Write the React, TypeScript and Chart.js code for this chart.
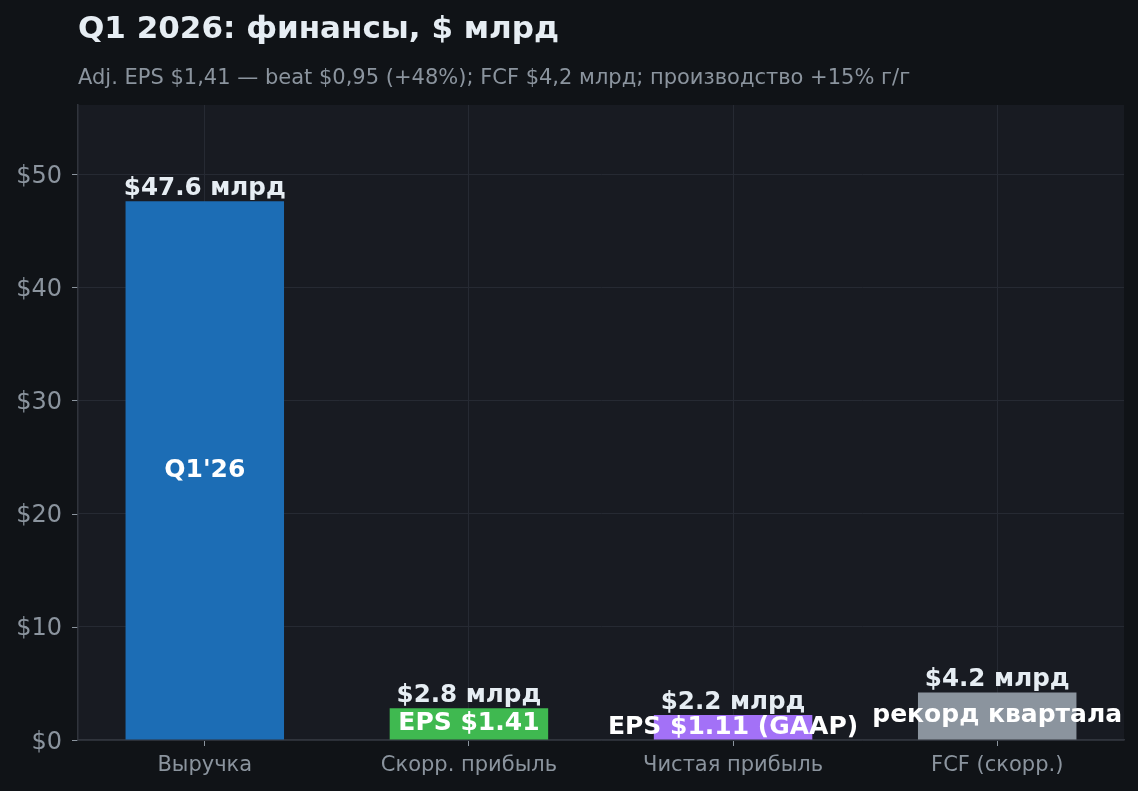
import React, { useEffect, useRef } from "react";
import { Chart, registerables } from "chart.js";

Chart.register(...registerables);

const categories = ["Выручка", "Скорр. прибыль", "Чистая прибыль", "FCF (скорр.)"];
const values = [47.6, 2.8, 2.2, 4.2];
const valueLabels = ["$47.6 млрд", "$2.8 млрд", "$2.2 млрд", "$4.2 млрд"];
const innerLabels = ["Q1'26", "EPS $1.41", "EPS $1.11 (GAAP)", "рекорд квартала"];
const yTicks = [0, 10, 20, 30, 40, 50];
const barColors = ["#1c6db5", "#3fb950", "#a371f7", "#8b949e"];
const titleText = "Q1 2026: финансы, $ млрд";
const subtitleText = "Adj. EPS $1,41 — beat $0,95 (+48%); FCF $4,2 млрд; производство +15% г/г";

const FONT = "'DejaVu Sans', sans-serif";
const PAGE_BG = "#101317";
const PLOT_BG = "#181b22";
const GRID = "#262a33";
const MUTED = "#8b949e";

const decorPlugin = {
  id: "decor",
  beforeDraw(chart: any) {
    const { ctx, chartArea, width, height } = chart;
    ctx.save();
    ctx.fillStyle = PAGE_BG;
    ctx.fillRect(0, 0, width, height);
    ctx.fillStyle = PLOT_BG;
    ctx.fillRect(chartArea.left, chartArea.top, chartArea.right - chartArea.left, chartArea.bottom - chartArea.top);
    ctx.textAlign = "left";
    ctx.textBaseline = "alphabetic";
    ctx.fillStyle = "#e6edf3";
    ctx.font = `bold 31px ${FONT}`;
    ctx.fillText(titleText, chartArea.left, 38);
    ctx.fillStyle = MUTED;
    ctx.font = `21px ${FONT}`;
    ctx.fillText(subtitleText, chartArea.left, 83.5);
    ctx.restore();
  },
  afterDraw(chart: any) {
    const { ctx } = chart;
    const yScale = chart.scales.y;
    ctx.save();
    ctx.font = `24px ${FONT}`;
    ctx.fillStyle = MUTED;
    ctx.strokeStyle = MUTED;
    ctx.lineWidth = 1;
    ctx.textAlign = "right";
    ctx.textBaseline = "alphabetic";
    yTicks.forEach((v) => {
      const py = yScale.getPixelForValue(v);
      ctx.fillText(`$${v}`, yScale.right - 16, py + 8.5);
      const yy = Math.round(py) + 0.5;
      ctx.beginPath();
      ctx.moveTo(yScale.right - 6, yy);
      ctx.lineTo(yScale.right - 0.75, yy);
      ctx.stroke();
    });
    ctx.restore();
  },
  afterDatasetsDraw(chart: any) {
    const { ctx } = chart;
    const meta = chart.getDatasetMeta(0);
    ctx.save();
    ctx.textAlign = "center";
    meta.data.forEach((bar: any, i: number) => {
      const { x, y, base } = bar.getProps(["x", "y", "base"], true);
      ctx.font = `bold 24.6px ${FONT}`;
      ctx.fillStyle = "#e6edf3";
      ctx.textBaseline = "alphabetic";
      ctx.fillText(valueLabels[i], x, y - 6);
      ctx.font = `bold 25px ${FONT}`;
      ctx.fillStyle = "#ffffff";
      ctx.textBaseline = "middle";
      ctx.fillText(innerLabels[i], x, (y + base) / 2);
    });
    ctx.restore();
  },
};

export default function App() {
  const ref = useRef<HTMLCanvasElement | null>(null);

  useEffect(() => {
    document.body.style.margin = "0";
    document.body.style.background = PAGE_BG;
    const canvas = ref.current;
    if (!canvas) return;
    const chart = new Chart(canvas, {
      type: "bar",
      data: {
        datasets: [
          {
            data: values.map((v, i) => ({ x: i, y: v })),
            backgroundColor: barColors,
            borderWidth: 0,
            barPercentage: 0.6,
            categoryPercentage: 1,
          },
        ],
      },
      options: {
        animation: false,
        responsive: true,
        maintainAspectRatio: false,
        layout: { padding: { left: 0, top: 105, right: 14, bottom: 0 } },
        plugins: {
          legend: { display: false },
          tooltip: { enabled: false },
          title: { display: false },
        },
        scales: {
          x: {
            type: "linear",
            offset: false,
            min: -0.48,
            max: 3.48,
            afterBuildTicks: (scale: any) => {
              scale.ticks = categories.map((_, i) => ({ value: i }));
            },
            afterFit: (scale: any) => {
              scale.height = 51;
            },
            ticks: {
              callback: (v: any) => categories[Math.round(Number(v))] ?? "",
              color: MUTED,
              font: { family: FONT, size: 21 },
              padding: 7,
              autoSkip: false,
              maxRotation: 0,
            },
            grid: { offset: false, color: GRID, tickColor: MUTED, tickLength: 6, lineWidth: 1 },
            border: { color: "#30343c", width: 1.5 },
          },
          y: {
            type: "linear",
            min: 0,
            max: 56.1,
            afterBuildTicks: (scale: any) => {
              scale.ticks = yTicks.map((v) => ({ value: v }));
            },
            afterFit: (scale: any) => {
              scale.width = 78;
            },
            ticks: {
              display: false,
            },
            grid: { color: GRID, drawTicks: false, lineWidth: 1 },
            border: { color: "#30343c", width: 1.5 },
          },
        },
      } as any,
      plugins: [decorPlugin],
    });
    return () => chart.destroy();
  }, []);

  return (
    <div style={{ position: "fixed", left: 0, top: 0, width: 1138, height: 791, background: PAGE_BG }}>
      <canvas ref={ref} />
    </div>
  );
}
